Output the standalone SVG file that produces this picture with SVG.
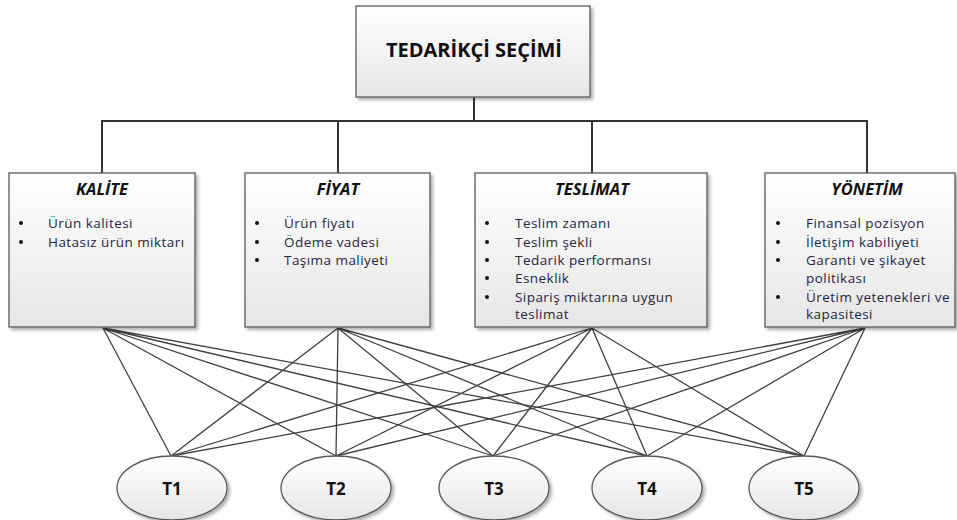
<svg xmlns="http://www.w3.org/2000/svg" width="957" height="520" viewBox="0 0 957 520">
<defs>
<linearGradient id="g" x1="0" y1="0" x2="0" y2="1">
<stop offset="0" stop-color="#ffffff"/>
<stop offset="1" stop-color="#e6e6e6"/>
</linearGradient>
<filter id="sh" x="-5%" y="-5%" width="115%" height="115%">
<feDropShadow dx="2.5" dy="2.5" stdDeviation="1.5" flood-color="#000" flood-opacity="0.3"/>
</filter>
<style>
.box{fill:url(#g);stroke:#595959;stroke-width:1.3;filter:url(#sh)}
.ell{fill:url(#g);stroke:#595959;stroke-width:1.3;filter:url(#sh)}
.tree{stroke:#333;stroke-width:2;fill:none}
.con{stroke:#404040;stroke-width:1.3;fill:none}
.main{font-family:"Open Sans","Liberation Sans",sans-serif;font-weight:bold;font-size:20px;fill:#111;text-anchor:middle}
.ttl{font-family:"Open Sans","Liberation Sans",sans-serif;font-weight:bold;font-style:italic;font-size:16.5px;fill:#111;text-anchor:middle}
.it{font-family:"Open Sans","Liberation Sans",sans-serif;font-size:13.5px;letter-spacing:0.45px;fill:#262640}
.bul{fill:#111}
.tl{font-family:"Open Sans","Liberation Sans",sans-serif;font-weight:bold;font-size:17px;fill:#111;text-anchor:middle}
</style>
</defs>
<g id="connectors">
<path class="tree" d="M474 97V121M102 121H867M102 120V173M338 120V173M592 120V173M867 120V173"/>
<g id="links">
<path class="con" d="M103 328L171 456M103 328L336 456M103 328L493 456M103 328L647 456M103 328L804 456"/>
<path class="con" d="M338 328L171 456M338 328L336 456M338 328L493 456M338 328L647 456M338 328L804 456"/>
<path class="con" d="M592 328L171 456M592 328L336 456M592 328L493 456M592 328L647 456M592 328L804 456"/>
<path class="con" d="M865 328L171 456M865 328L336 456M865 328L493 456M865 328L647 456M865 328L804 456"/>
</g>
</g>
<g id="n-root">
<rect class="box" x="356" y="6" width="234" height="91"/>
<text class="main" x="474" y="57" textLength="176" lengthAdjust="spacingAndGlyphs">TEDARİKÇİ SEÇİMİ</text>
</g>
<g id="n-kalite">
<rect class="box" x="9" y="173" width="186" height="154"/>
<text class="ttl" x="102" y="195">KALİTE</text>
<circle class="bul" cx="21" cy="223" r="2"/><text class="it" x="48" y="227.5">Ürün kalitesi</text>
<circle class="bul" cx="21" cy="242" r="2"/><text class="it" x="48" y="246.5">Hatasız ürün miktarı</text>
</g>
<g id="n-fiyat">
<rect class="box" x="245" y="173" width="185" height="154"/>
<text class="ttl" x="338" y="195">FİYAT</text>
<circle class="bul" cx="257" cy="223" r="2"/><text class="it" x="284" y="227.5">Ürün fiyatı</text>
<circle class="bul" cx="257" cy="242" r="2"/><text class="it" x="284" y="246.5">Ödeme vadesi</text>
<circle class="bul" cx="257" cy="260" r="2"/><text class="it" x="284" y="264.5">Taşıma maliyeti</text>
</g>
<g id="n-teslimat">
<rect class="box" x="475" y="173" width="232" height="154"/>
<text class="ttl" x="592" y="195">TESLİMAT</text>
<circle class="bul" cx="487" cy="223" r="2"/><text class="it" x="515" y="227.5">Teslim zamanı</text>
<circle class="bul" cx="487" cy="242" r="2"/><text class="it" x="515" y="246.5">Teslim şekli</text>
<circle class="bul" cx="487" cy="260" r="2"/><text class="it" x="515" y="264.5">Tedarik performansı</text>
<circle class="bul" cx="487" cy="278" r="2"/><text class="it" x="515" y="282.5">Esneklik</text>
<circle class="bul" cx="487" cy="297" r="2"/><text class="it" x="515" y="301.5">Sipariş miktarına uygun</text>
<text class="it" x="515" y="319">teslimat</text>
</g>
<g id="n-yonetim">
<rect class="box" x="765" y="173" width="190" height="154"/>
<text class="ttl" x="867" y="195">YÖNETİM</text>
<circle class="bul" cx="778" cy="223" r="2"/><text class="it" x="806" y="227.5">Finansal pozisyon</text>
<circle class="bul" cx="778" cy="242" r="2"/><text class="it" x="806" y="246.5">İletişim kabiliyeti</text>
<circle class="bul" cx="778" cy="260" r="2"/><text class="it" x="806" y="264.5">Garanti ve şikayet</text>
<text class="it" x="806" y="282.5">politikası</text>
<circle class="bul" cx="778" cy="297" r="2"/><text class="it" x="806" y="301.5">Üretim yetenekleri ve</text>
<text class="it" x="806" y="319">kapasitesi</text>
</g>
<g id="n-t1"><ellipse class="ell" cx="172" cy="488" rx="55" ry="32"/><text class="tl" x="172" y="495">T1</text></g>
<g id="n-t2"><ellipse class="ell" cx="336" cy="488" rx="55" ry="32"/><text class="tl" x="336" y="495">T2</text></g>
<g id="n-t3"><ellipse class="ell" cx="494" cy="488" rx="55" ry="32"/><text class="tl" x="494" y="495">T3</text></g>
<g id="n-t4"><ellipse class="ell" cx="647" cy="488" rx="55" ry="32"/><text class="tl" x="647" y="495">T4</text></g>
<g id="n-t5"><ellipse class="ell" cx="804" cy="488" rx="55" ry="32"/><text class="tl" x="804" y="495">T5</text></g>
</svg>
